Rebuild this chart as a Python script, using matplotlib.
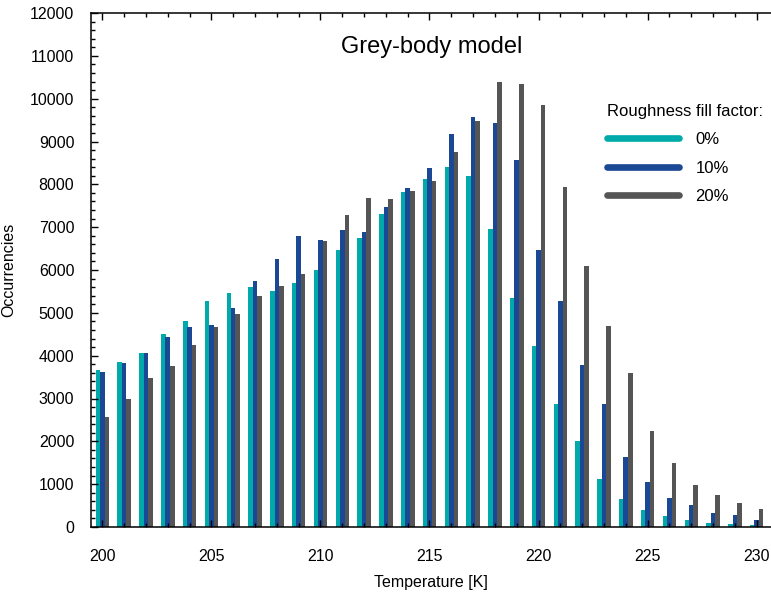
"""Grey-body model: temperature histogram for three roughness fill factors."""

import matplotlib

matplotlib.use("Agg")

import matplotlib.pyplot as plt
import numpy as np
from matplotlib.lines import Line2D
from matplotlib.ticker import MultipleLocator

plt.rcParams["font.family"] = ["Liberation Sans", "DejaVu Sans"]

# --- data ---
TEMPERATURE = list(range(200, 231))

FILL_0 = [
    3660, 3860, 4055, 4510, 4800, 5265, 5470, 5610, 5520, 5700,
    6000, 6465, 6750, 7310, 7820, 8125, 8400, 8200, 6960, 5340,
    4215, 2867, 2007, 1123, 658, 402, 247, 170, 100, 77, 40,
]
FILL_10 = [
    3612, 3828, 4060, 4441, 4674, 4705, 5116, 5751, 6263, 6798,
    6705, 6945, 6891, 7465, 7907, 8372, 9177, 9581, 9433, 8558,
    6460, 5279, 3774, 2874, 1635, 1046, 681, 511, 333, 286, 170,
]
FILL_20 = [
    2558, 3000, 3472, 3751, 4240, 4674, 4984, 5395, 5627, 5907,
    6674, 7286, 7674, 7651, 7837, 8077, 8758, 9472, 10386, 10340,
    9855, 7944, 6093, 4688, 3605, 2240, 1495, 984, 751, 565, 419,
]

SERIES_LABELS = ["0%", "10%", "20%"]
SERIES_COLORS = ["#00aaaa", "#1a4894", "#555555"]
BAR_OFFSETS = [-0.2, 0.0, 0.21]
BAR_WIDTH = 0.21


def main() -> None:
    fig = plt.figure(figsize=(7.71, 5.95), dpi=100)
    ax = fig.add_axes([91 / 771, 68 / 595, 680 / 771, 514 / 595])

    x = np.asarray(TEMPERATURE, dtype=float)
    for values, color, offset in zip(
        [FILL_0, FILL_10, FILL_20], SERIES_COLORS, BAR_OFFSETS
    ):
        ax.bar(x + offset, values, width=BAR_WIDTH, color=color, linewidth=0)

    ax.set_xlim(199.48, 230.66)
    ax.set_ylim(0, 12000)

    ax.xaxis.set_major_locator(MultipleLocator(5))
    ax.xaxis.set_minor_locator(MultipleLocator(1))
    ax.yaxis.set_major_locator(MultipleLocator(1000))
    ax.yaxis.set_minor_locator(MultipleLocator(200))

    ax.tick_params(which="both", direction="in", top=True, right=False,
                   width=1.0, colors="black")
    ax.tick_params(which="major", length=5)
    ax.tick_params(which="minor", length=3)
    ax.tick_params(axis="x", which="major", pad=16, labelsize=11.5)
    ax.tick_params(axis="y", which="major", pad=12, labelsize=11.5)

    # the reference is cropped on the right, so no right frame line
    ax.spines["right"].set_visible(False)
    for side in ("left", "bottom", "top"):
        ax.spines[side].set_linewidth(1.1)

    ax.set_xlabel("Temperature [K]", fontsize=11.5, labelpad=8)
    ax.set_ylabel("Occurrencies", fontsize=11.5, labelpad=10)

    fig.text(432 / 771, 1 - 47 / 595, "Grey-body model", fontsize=17,
             ha="center", va="center")

    handles = [
        Line2D([], [], color=c, lw=4.8, solid_capstyle="round")
        for c in SERIES_COLORS
    ]
    leg = ax.legend(
        handles, SERIES_LABELS, title="Roughness fill factor:",
        loc="upper left", bbox_to_anchor=(607 / 771, (595 - 104) / 595),
        bbox_transform=fig.transFigure, frameon=False, fontsize=12,
        title_fontsize=12, handlelength=4.3, handletextpad=1.0,
        labelspacing=0.8, borderaxespad=0, borderpad=0,
    )
    leg._legend_box.align = "left"

    fig.savefig("out.png", dpi=100, facecolor="white")
    plt.close(fig)


if __name__ == "__main__":
    main()
